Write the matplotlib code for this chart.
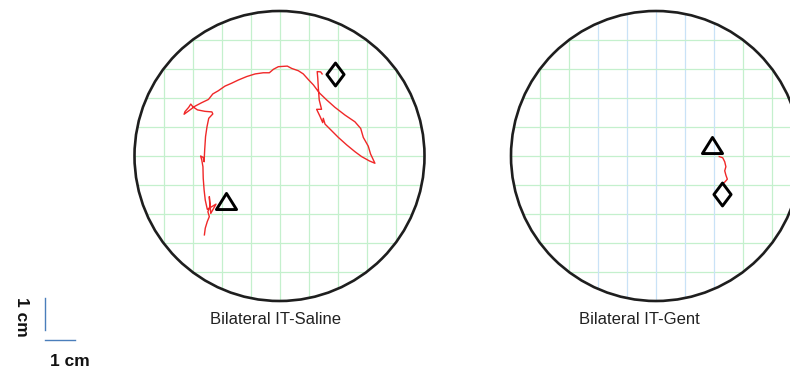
import matplotlib
matplotlib.use("Agg")
import matplotlib.pyplot as plt
import numpy as np
from matplotlib.patches import Circle
from matplotlib.path import Path

plt.rcParams['font.family'] = ['Liberation Sans', 'DejaVu Sans']

# Arena geometry (cm): radius 5 cm, 1 cm grid
ARENA_RADIUS = 5.0
GRID_STEP = 1.0

panel_titles = ["Bilateral IT-Saline", "Bilateral IT-Gent"]

# Saline: swim path (cm from arena centre)
saline_x = [-2.59, -2.56, -2.49, -2.42, -2.47, -2.40, -2.42, -2.37, -2.19, -2.49,
            -2.56, -2.60, -2.63, -2.64, -2.68, -2.72, -2.63, -2.60, -2.58, -2.55,
            -2.50, -2.44, -2.30, -2.33, -2.57, -2.83, -2.99, -3.06, -3.13, -3.26,
            -3.29, -3.14, -2.91, -2.68, -2.45, -2.30, -2.11, -1.88, -1.65, -1.42,
            -1.13, -0.84, -0.56, -0.35, -0.21, -0.04, 0.27, 0.42, 0.65, 0.82,
            0.99, 1.17, 1.37, 1.63, 1.91, 2.26, 2.60, 2.80, 2.89, 3.06,
            3.14, 3.29, 3.10, 2.83, 2.60, 2.32, 2.03, 1.80, 1.57, 1.51,
            1.49, 1.40, 1.28, 1.45, 1.37, 1.34, 1.32, 1.30, 1.42, 1.47]
saline_y = [-2.72, -2.49, -2.26, -2.09, -1.92, -1.75, -1.40, -1.98, -1.66, -1.84,
            -1.52, -1.17, -0.77, -0.37, -0.14, 0.00, -0.05, -0.20, 0.21, 0.67,
            1.01, 1.30, 1.45, 1.52, 1.54, 1.59, 1.70, 1.79, 1.68, 1.53,
            1.44, 1.55, 1.72, 1.84, 1.95, 2.14, 2.25, 2.41, 2.51, 2.62,
            2.74, 2.83, 2.87, 2.87, 2.99, 3.08, 3.10, 3.02, 2.94, 2.83,
            2.64, 2.45, 2.18, 1.93, 1.68, 1.41, 1.18, 0.95, 0.64, 0.34,
            0.07, -0.25, -0.17, -0.02, 0.15, 0.38, 0.64, 0.87, 1.10, 1.30,
            1.15, 1.36, 1.61, 1.61, 1.93, 2.33, 2.68, 2.91, 2.90, 2.83]
saline_start = (-1.83, -1.56)
saline_platform = (1.91, 2.82)

# Gentamicin: swim path (cm from arena centre)
gent_x = [2.18, 2.30, 2.37, 2.41, 2.37, 2.41, 2.46, 2.38, 2.32]
gent_y = [-0.02, -0.06, -0.20, -0.37, -0.51, -0.66, -0.80, -0.89, -0.94]
gent_start = (1.94, 0.39)
gent_platform = (2.28, -1.30)

trajectories = [(saline_x, saline_y, saline_start, saline_platform),
                (gent_x, gent_y, gent_start, gent_platform)]

W, H = 790, 376
PX_PER_CM = 29.0
centres_px = [(279.5, 156.0), (656.0, 156.0)]
LIM = 5.15

start_marker = Path([(0, 0.8), (-1, -0.8), (1, -0.8), (0, 0.8)],
                    [Path.MOVETO, Path.LINETO, Path.LINETO, Path.CLOSEPOLY])
goal_marker = Path([(0, 1), (0.75, 0), (0, -1), (-0.75, 0), (0, 1)],
                   [Path.MOVETO, Path.LINETO, Path.LINETO, Path.LINETO, Path.CLOSEPOLY])

fig = plt.figure(figsize=(W / 100, H / 100), dpi=100)
fig.patch.set_facecolor('white')

for i, ((cx, cy), (px, py, start, goal)) in enumerate(zip(centres_px, trajectories)):
    half = LIM * PX_PER_CM
    ax = fig.add_axes([(cx - half) / W, (H - cy - half) / H, 2 * half / W, 2 * half / H])
    ax.set_xlim(-LIM, LIM)
    ax.set_ylim(-LIM, LIM)
    ax.axis('off')

    clip = Circle((0, 0), ARENA_RADIUS, transform=ax.transData, facecolor='none', edgecolor='none')
    ax.add_patch(clip)
    ticks = np.arange(-4, 5) * GRID_STEP
    for t in ticks:
        vcol = '#c9e2f7' if (i == 1 and -2 <= t <= 2) else '#c4f0cd'
        lv = ax.axvline(t, color=vcol, lw=0.9, zorder=1)
        lh = ax.axhline(t, color='#c4f0cd', lw=0.9, zorder=1)
        lv.set_clip_path(clip)
        lh.set_clip_path(clip)

    ax.add_patch(Circle((0, 0), ARENA_RADIUS, facecolor='none', edgecolor='#1e1e1e',
                        lw=1.9, zorder=3))

    ax.plot(px, py, color='#f02828', lw=1.0, zorder=4)
    ax.plot(*start, marker=start_marker, ms=14.5, mfc='none', mec='black', mew=2.1,
            linestyle='none', zorder=5)
    ax.plot(*goal, marker=goal_marker, ms=16.5, mfc='none', mec='black', mew=2.1,
            linestyle='none', zorder=5)

# Panel titles
fig.text(276 / W, 1 - 320 / H, panel_titles[0], ha='center', va='center', fontsize=12,
         color='#222222')
fig.text(639.5 / W, 1 - 320 / H, panel_titles[1], ha='center', va='center', fontsize=12,
         color='#222222')

# 1 cm scale bar
sb = fig.add_axes([0, 0, 1, 1])
sb.set_xlim(0, W)
sb.set_ylim(H, 0)
sb.axis('off')
sb.plot([45, 45], [298, 298 + PX_PER_CM + 3], color='#4a7ebb', lw=1.0)
sb.plot([45, 45 + PX_PER_CM + 1], [339.5, 339.5], color='#4a7ebb', lw=1.0)
sb.text(21, 317, "1 cm", rotation=-90, ha='center', va='center', fontsize=12.5,
        fontweight='bold', color='#111111')
sb.text(70, 362, "1 cm", ha='center', va='center', fontsize=12.5,
        fontweight='bold', color='#111111')

fig.savefig('out.png', dpi=100)
